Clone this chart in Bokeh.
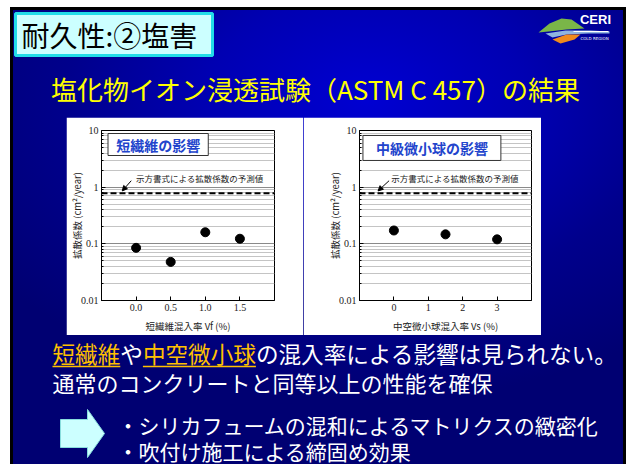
from bokeh.plotting import figure
from bokeh.layouts import column, row
from bokeh.models import (Range1d, Span, Label, Arrow, NormalHead, FixedTicker,
                          NumeralTickFormatter, PrintfTickFormatter, Spacer)
from bokeh.core.properties import value
from bokeh.embed import file_html
from bokeh.resources import INLINE

# ---------------- data ----------------
fiber_rate = [0.0, 0.5, 1.0, 1.5]
fiber_diff = [0.085, 0.048, 0.16, 0.123]
sphere_rate = [0, 1.5, 3]
sphere_diff = [0.172, 0.147, 0.12]
predicted_diff = 0.78
y_major_ticks = [0.01, 0.1, 1, 10]
y_minor_ticks = [m * d for d in [0.01, 0.1, 1] for m in range(2, 10)]
fiber_ticks = [0.0, 0.5, 1.0, 1.5]
sphere_ticks = [0, 1, 2, 3]

slide_title = "耐久性:②塩害"
slide_subtitle = "塩化物イオン浸透試験（ASTM C 457）の結果"
y_label = "拡散係数 (cm²/year)"
fiber_xlabel = "短繊維混入率 Vf (%)"
sphere_xlabel = "中空微小球混入率 Vs (%)"
fiber_legend = "短繊維の影響"
sphere_legend = "中級微小球の影響"
pred_note = "示方書式による拡散係数の予測値"
line1_parts = [("短繊維", True), ("や", False), ("中空微小球", True),
               ("の混入率による影響は見られない。", False)]
line2 = "通常のコンクリートと同等以上の性能を確保"
bullets = ["・シリカフュームの混和によるマトリクスの緻密化", "・吹付け施工による締固め効果"]

JP = "Noto Sans CJK JP"
W = 613          # slide width
OX, OY = 10, 7   # slide offset on the page


def bare(fig):
    fig.background_fill_alpha = 0
    fig.border_fill_alpha = 0
    fig.outline_line_color = None
    fig.grid.visible = False
    return fig


# ---------------- header ----------------
HH = 110
hdr = bare(figure(width=W, height=HH, x_range=Range1d(0, W), y_range=Range1d(HH, 0),
                  output_backend="svg", toolbar_location=None, min_border=0,
                  x_axis_location=None, y_axis_location=None))
hdr.quad(left=[5], right=[202], top=[6], bottom=[48], fill_color="#ccffff",
         line_color="#22dde8", line_width=3)
hdr.text(x=[11], y=[27], text=[slide_title], text_font=value(JP), text_font_size="28px",
         text_baseline="middle", text_color="black")
hdr.text(x=[305], y=[81], text=[slide_subtitle], text_font=value(JP), text_font_size="26px",
         text_baseline="middle", text_align="center", text_color="#ffff00")
# logo (page coords minus slide offset)
hdr.patch([x - OX for x in [538, 549, 561, 571, 584, 566, 548]],
          [y - OY for y in [32, 23, 18, 19, 28, 29, 31]], fill_color="#7ab648", line_color=None)
hdr.patch([x - OX for x in [545, 565, 590, 609, 609, 588, 566, 552]],
          [y - OY for y in [33, 30, 30, 31, 33, 33, 34, 37]], fill_color="#8fb4e0", line_color=None)
hdr.patch([x - OX for x in [552, 566, 580, 574, 560]],
          [y - OY for y in [39, 34, 34, 39, 43]], fill_color="#f08a1c", line_color=None)
hdr.segment(x0=[573 - OX], y0=[31 - OY], x1=[608 - OX], y1=[31 - OY], line_color="white",
            line_width=1)
hdr.text(x=[595 - OX], y=[19 - OY], text=["CERI"], text_font=value("Liberation Sans"),
         text_font_style="bold", text_font_size="13px", text_align="center",
         text_baseline="middle", text_color="white")
hdr.text(x=[594 - OX], y=[38 - OY], text=["COLD REGION"], text_font=value("DejaVu Sans"),
         text_font_size="4px", text_align="center", text_baseline="middle", text_color="white")


# ---------------- charts ----------------
def make_chart(xs, ys, xr, xticks, xfmt, xlabel, legend, fw, bl, br, box, note_xy, arr):
    p = figure(frame_width=fw, frame_height=170, x_range=Range1d(*xr),
               y_range=Range1d(0.01, 10), y_axis_type="log", output_backend="svg",
               toolbar_location=None, min_border_left=bl, min_border_right=br,
               min_border_top=13, min_border_bottom=34, background_fill_color="white",
               border_fill_color="white", outline_line_color="black")
    p.yaxis.ticker = FixedTicker(ticks=y_major_ticks, minor_ticks=y_minor_ticks)
    p.yaxis.formatter = NumeralTickFormatter(format="0.[00]")
    p.xaxis.ticker = FixedTicker(ticks=xticks)
    p.xaxis.formatter = PrintfTickFormatter(format=xfmt)
    for ax in (p.xaxis[0], p.yaxis[0]):
        ax.major_label_text_font = "Liberation Serif"
        ax.major_label_text_font_size = "10px"
        ax.major_label_text_color = "#222222"
        ax.axis_label_text_font = JP
        ax.axis_label_text_font_size = "9.5px"
        ax.axis_label_text_font_style = "normal"
        ax.axis_label_text_color = "#222222"
        ax.major_tick_out = 0
        ax.major_tick_in = 4
        ax.minor_tick_out = 0
        ax.minor_tick_in = 2
        ax.axis_line_color = "black"
    p.xaxis.minor_tick_line_color = None
    p.yaxis.major_label_standoff = 3
    p.yaxis.axis_label_standoff = -6
    p.xaxis.major_label_standoff = 3
    p.xaxis.axis_label_standoff = 5
    p.xaxis.axis_label = xlabel
    p.yaxis.axis_label = y_label
    p.xgrid.grid_line_color = None
    p.ygrid.grid_line_color = "#8a8a8a"
    p.ygrid.minor_grid_line_color = "#c4c4c4"

    p.add_layout(Span(location=predicted_diff, dimension="width", line_color="black",
                      line_width=2, line_dash="6 3"))
    l, r, t, b = box
    p.quad(left=[l], right=[r], top=[t], bottom=[b], fill_color="white", line_color="#333333",
           line_width=1)
    p.add_layout(Label(x=(l + r) / 2, y=(t * b) ** 0.5, text=legend, text_font=JP,
                       text_font_size="14px", text_font_style="bold", text_color="#2244cc",
                       text_align="center", text_baseline="middle"))
    p.add_layout(Label(x=note_xy[0], y=note_xy[1], text=pred_note, text_font=JP,
                       text_font_size="8.5px", text_color="#222222", text_align="left",
                       text_baseline="middle"))
    p.add_layout(Arrow(end=NormalHead(size=5, fill_color="black", line_color="black"),
                       x_start=arr[0], y_start=arr[1], x_end=arr[2], y_end=arr[3],
                       line_width=1, line_color="black"))
    p.scatter(xs, ys, size=9, color="black")
    return p


c1 = make_chart(fiber_rate, fiber_diff, (-0.5, 2.0), fiber_ticks, "%.1f", fiber_xlabel,
                fiber_legend, 173, 32, 29, (-0.406, 1.043, 8.85, 3.62), (0.0, 1.48),
                (-0.07, 1.3, -0.2, 0.86))
c2 = make_chart(sphere_rate, sphere_diff, (-1, 4), sphere_ticks, "%d", sphere_xlabel,
                sphere_legend, 172, 56, 10, (-0.9, 3.11, 8.17, 2.96), (-0.08, 1.48),
                (-0.14, 1.3, -0.46, 0.86))

LS = 66 - OX
mid = row(Spacer(width=LS, height=217), c1, c2, Spacer(width=W - LS - 234 - 238, height=217),
          spacing=0)

# ---------------- footer ----------------
FH = 135
ftr = bare(figure(width=W, height=FH, x_range=Range1d(0, W), y_range=Range1d(FH, 0),
                  output_backend="svg", toolbar_location=None, min_border=0,
                  x_axis_location=None, y_axis_location=None))
fs1 = 22.6
x = 42
for txt, hl in line1_parts:
    col = "#ffc000" if hl else "white"
    ftr.text(x=[x], y=[18], text=[txt], text_font=value(JP), text_font_size=f"{fs1}px",
             text_baseline="middle", text_color=col)
    if hl:
        ftr.segment(x0=[x], y0=[31], x1=[x + fs1 * len(txt)], y1=[31], line_color=col,
                    line_width=1.5)
    x += fs1 * len(txt)
ftr.text(x=[42], y=[46], text=[line2], text_font=value(JP), text_font_size="22px",
         text_baseline="middle", text_color="white")
ftr.patch([50, 77, 77, 94, 77, 77, 50], [84, 84, 74, 98, 122, 112, 112],
          fill_color="#ccffff", line_color="#88dddd", line_width=1)
for i, btxt in enumerate(bullets):
    ftr.text(x=[107], y=[89 + 26 * i], text=[btxt], text_font=value(JP),
             text_font_size="21px", text_baseline="middle", text_color="white")

slide = column(hdr, mid, ftr, spacing=0, styles={
    "background": "radial-gradient(ellipse 75% 65% at 58% 20%, #0000d2 0%, #0000b2 35%, #00008c 65%, #000072 100%)",
    "box-shadow": "inset 0 0 0 3px #000"})

page = column(Spacer(width=W + OX, height=OY), row(Spacer(width=OX, height=HH + 217 + FH), slide,
                                                   spacing=0), spacing=0)

open("out.html", "w").write(file_html(page, INLINE))
